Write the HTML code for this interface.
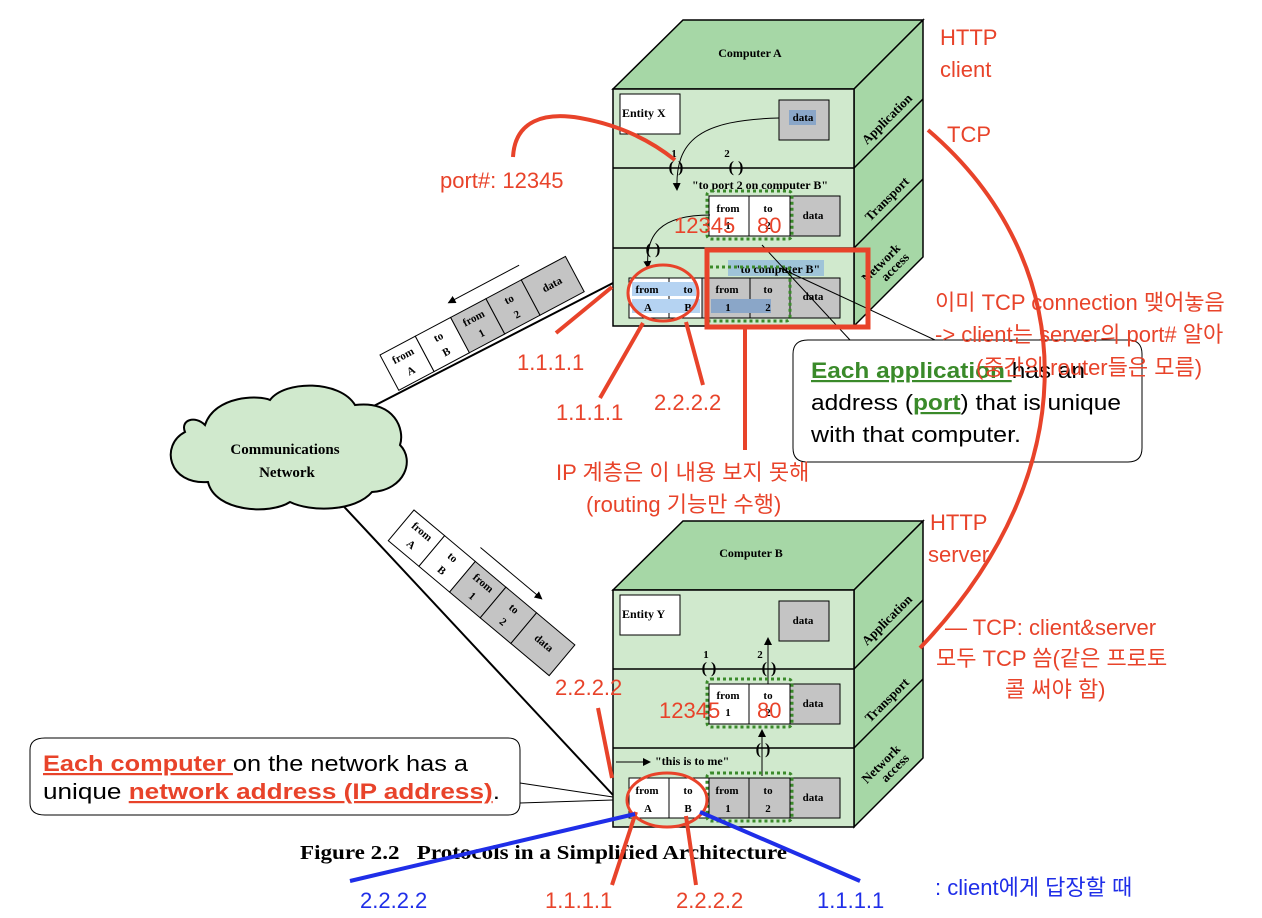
<!DOCTYPE html>
<html><head><meta charset="utf-8"><style>
html,body{margin:0;padding:0;background:#fff;}
svg{display:block;}
.s{font-family:"Liberation Serif",serif;font-weight:bold;}
.r{font-family:"Liberation Sans","Noto Sans CJK KR",sans-serif;fill:#e8432a;font-size:22px;}
.b{font-family:"Liberation Sans","Noto Sans CJK KR",sans-serif;fill:#1f2ee8;font-size:22px;}
.c{font-family:"Liberation Sans",sans-serif;font-size:22px;}
</style></head><body>
<svg width="1262" height="918" viewBox="0 0 1262 918" xmlns="http://www.w3.org/2000/svg">
<defs>
<marker id="ah" markerWidth="8" markerHeight="8" refX="7" refY="4" orient="auto"><path d="M0,0 L8,4 L0,8 z" fill="#000"/></marker>
</defs>

<!-- ===== Cube A ===== -->
<g stroke="#000" stroke-width="1.5">
<polygon points="613,89 683,20 923,20 854,89" fill="#a6d7a6"/>
<polygon points="854,89 923,20 923,257 854,326" fill="#a6d7a6"/>
<rect x="613" y="89" width="241" height="237" fill="#d0e9cd"/>
<line x1="613" y1="168" x2="854" y2="168"/>
<line x1="613" y1="248" x2="854" y2="248"/>
<line x1="854" y1="168" x2="923" y2="99"/>
<line x1="854" y1="248" x2="923" y2="179"/>
</g>
<text class="s" x="750" y="57" font-size="12" text-anchor="middle">Computer A</text>
<text class="s" font-size="13" transform="translate(890,122) rotate(-45)" text-anchor="middle">Application</text>
<text class="s" font-size="13" transform="translate(890,202) rotate(-45)" text-anchor="middle">Transport</text>
<text class="s" font-size="13" transform="translate(884,266) rotate(-45)" text-anchor="middle">Network</text>
<text class="s" font-size="13" transform="translate(898,270) rotate(-45)" text-anchor="middle">access</text>
<rect x="620" y="94" width="60" height="40" fill="#fff" stroke="#000"/>
<text class="s" x="622" y="117" font-size="12">Entity X</text>
<rect x="779" y="100" width="50" height="40" fill="#c4c4c4" stroke="#000"/>
<rect x="789" y="110" width="27" height="15" fill="#8aa6c8"/>
<text class="s" x="803" y="121" font-size="11" text-anchor="middle">data</text>
<text class="s" x="674" y="157" font-size="11" text-anchor="middle">1</text>
<text class="s" x="727" y="157" font-size="11" text-anchor="middle">2</text>
<text class="s" x="676" y="172" font-size="16" text-anchor="middle">( )</text>
<text class="s" x="736" y="172" font-size="16" text-anchor="middle">( )</text>
<path d="M779,118 C700,120 675,140 677,190" fill="none" stroke="#000" marker-end="url(#ah)"/>
<text class="s" x="760" y="189" font-size="12" text-anchor="middle">"to port 2 on computer B"</text>
<rect x="709" y="196" width="40" height="40" fill="#fff" stroke="#000"/>
<rect x="749" y="196" width="41" height="40" fill="#fff" stroke="#000"/>
<rect x="790" y="196" width="50" height="40" fill="#c4c4c4" stroke="#000"/>
<text class="s" x="728" y="212" font-size="11" text-anchor="middle">from</text>
<text class="s" x="728" y="229" font-size="11" text-anchor="middle">1</text>
<text class="s" x="768" y="212" font-size="11" text-anchor="middle">to</text>
<text class="s" x="768" y="229" font-size="11" text-anchor="middle">2</text>
<text class="s" x="813" y="219" font-size="11" text-anchor="middle">data</text>
<rect x="707" y="191" width="85" height="48" rx="4" fill="none" stroke="#3a8a2a" stroke-width="3" stroke-dasharray="3,3"/>
<path d="M710,215 C660,215 645,235 648,268" fill="none" stroke="#000" marker-end="url(#ah)"/>
<text class="s" x="653" y="254" font-size="16" text-anchor="middle">( )</text>
<rect x="728" y="260" width="96" height="16" fill="#9fc4d8"/>
<text class="s" x="777" y="273" font-size="12" text-anchor="middle">"to computer B"</text>
<rect x="629" y="278" width="40" height="40" fill="#fff" stroke="#000"/>
<rect x="669" y="278" width="33" height="40" fill="#fff" stroke="#000"/>
<rect x="702" y="278" width="48" height="40" fill="#c4c4c4" stroke="#000"/>
<rect x="750" y="278" width="40" height="40" fill="#c4c4c4" stroke="#000"/>
<rect x="790" y="278" width="50" height="40" fill="#c4c4c4" stroke="#000"/>
<rect x="632" y="282" width="64" height="14" fill="#b5d3f2"/>
<rect x="632" y="299" width="68" height="14" fill="#b5d3f2"/>
<rect x="711" y="299" width="60" height="14" fill="#8aa6c8"/>
<text class="s" x="647" y="293" font-size="11" text-anchor="middle">from</text>
<text class="s" x="648" y="311" font-size="11" text-anchor="middle">A</text>
<text class="s" x="688" y="293" font-size="11" text-anchor="middle">to</text>
<text class="s" x="688" y="311" font-size="11" text-anchor="middle">B</text>
<text class="s" x="727" y="293" font-size="11" text-anchor="middle">from</text>
<text class="s" x="728" y="311" font-size="11" text-anchor="middle">1</text>
<text class="s" x="768" y="293" font-size="11" text-anchor="middle">to</text>
<text class="s" x="768" y="311" font-size="11" text-anchor="middle">2</text>
<text class="s" x="813" y="300" font-size="11" text-anchor="middle">data</text>
<rect x="706" y="267" width="84" height="54" rx="4" fill="none" stroke="#3a8a2a" stroke-width="3" stroke-dasharray="3,3"/>

<!-- ===== Cube B ===== -->
<g stroke="#000" stroke-width="1.5">
<polygon points="613,590 683,521 923,521 854,590" fill="#a6d7a6"/>
<polygon points="854,590 923,521 923,758 854,827" fill="#a6d7a6"/>
<rect x="613" y="590" width="241" height="237" fill="#d0e9cd"/>
<line x1="613" y1="669" x2="854" y2="669"/>
<line x1="613" y1="748" x2="854" y2="748"/>
<line x1="854" y1="669" x2="923" y2="600"/>
<line x1="854" y1="748" x2="923" y2="679"/>
</g>
<text class="s" x="751" y="557" font-size="12" text-anchor="middle">Computer B</text>
<text class="s" font-size="13" transform="translate(890,623) rotate(-45)" text-anchor="middle">Application</text>
<text class="s" font-size="13" transform="translate(890,703) rotate(-45)" text-anchor="middle">Transport</text>
<text class="s" font-size="13" transform="translate(884,767) rotate(-45)" text-anchor="middle">Network</text>
<text class="s" font-size="13" transform="translate(898,771) rotate(-45)" text-anchor="middle">access</text>
<rect x="620" y="595" width="60" height="40" fill="#fff" stroke="#000"/>
<text class="s" x="622" y="618" font-size="12">Entity Y</text>
<rect x="779" y="601" width="50" height="40" fill="#c4c4c4" stroke="#000"/>
<text class="s" x="803" y="624" font-size="11" text-anchor="middle">data</text>
<text class="s" x="706" y="658" font-size="11" text-anchor="middle">1</text>
<text class="s" x="760" y="658" font-size="11" text-anchor="middle">2</text>
<text class="s" x="709" y="673" font-size="16" text-anchor="middle">( )</text>
<text class="s" x="769" y="673" font-size="16" text-anchor="middle">( )</text>
<line x1="768" y1="685" x2="768" y2="638" stroke="#000" marker-end="url(#ah)"/>
<rect x="709" y="684" width="40" height="40" fill="#fff" stroke="#000"/>
<rect x="749" y="684" width="41" height="40" fill="#fff" stroke="#000"/>
<rect x="790" y="684" width="50" height="40" fill="#c4c4c4" stroke="#000"/>
<text class="s" x="728" y="699" font-size="11" text-anchor="middle">from</text>
<text class="s" x="728" y="716" font-size="11" text-anchor="middle">1</text>
<text class="s" x="768" y="699" font-size="11" text-anchor="middle">to</text>
<text class="s" x="768" y="716" font-size="11" text-anchor="middle">2</text>
<text class="s" x="813" y="707" font-size="11" text-anchor="middle">data</text>
<rect x="707" y="679" width="85" height="48" rx="4" fill="none" stroke="#3a8a2a" stroke-width="3" stroke-dasharray="3,3"/>
<text class="s" x="763" y="754" font-size="16" text-anchor="middle">( )</text>
<line x1="762" y1="776" x2="762" y2="730" stroke="#000" marker-end="url(#ah)"/>
<line x1="616" y1="762" x2="650" y2="762" stroke="#000" marker-end="url(#ah)"/>
<text class="s" x="655" y="765" font-size="12">"this is to me"</text>
<rect x="629" y="778" width="40" height="40" fill="#fff" stroke="#000"/>
<rect x="669" y="778" width="40" height="40" fill="#fff" stroke="#000"/>
<rect x="709" y="778" width="40" height="40" fill="#c4c4c4" stroke="#000"/>
<rect x="749" y="778" width="41" height="40" fill="#c4c4c4" stroke="#000"/>
<rect x="790" y="778" width="50" height="40" fill="#c4c4c4" stroke="#000"/>
<text class="s" x="647" y="794" font-size="11" text-anchor="middle">from</text>
<text class="s" x="648" y="812" font-size="11" text-anchor="middle">A</text>
<text class="s" x="688" y="794" font-size="11" text-anchor="middle">to</text>
<text class="s" x="688" y="812" font-size="11" text-anchor="middle">B</text>
<text class="s" x="727" y="794" font-size="11" text-anchor="middle">from</text>
<text class="s" x="728" y="812" font-size="11" text-anchor="middle">1</text>
<text class="s" x="768" y="794" font-size="11" text-anchor="middle">to</text>
<text class="s" x="768" y="812" font-size="11" text-anchor="middle">2</text>
<text class="s" x="813" y="801" font-size="11" text-anchor="middle">data</text>
<rect x="707" y="773" width="85" height="48" rx="4" fill="none" stroke="#3a8a2a" stroke-width="3" stroke-dasharray="3,3"/>

<!-- ===== Cloud and links ===== -->
<line x1="362" y1="412" x2="613" y2="283" stroke="#000" stroke-width="2"/>
<line x1="335" y1="497" x2="613" y2="795" stroke="#000" stroke-width="2"/>
<path d="M205,425 C215,395 260,395 270,400 C285,380 340,380 355,405 C395,400 405,430 400,445 C415,460 405,490 372,492 C355,512 310,512 290,502 C270,515 215,512 208,482 C168,485 160,445 185,432 C180,420 195,415 205,425 Z" fill="#d0e9cd" stroke="#000" stroke-width="2"/>
<text class="s" x="285" y="454" font-size="15" text-anchor="middle">Communications</text>
<text class="s" x="287" y="477" font-size="15" text-anchor="middle">Network</text>

<!-- Upper packet (to left) -->
<g transform="translate(380,355) rotate(-28)">
<rect x="0" y="0" width="40" height="40" fill="#fff" stroke="#000"/>
<rect x="40" y="0" width="40" height="40" fill="#fff" stroke="#000"/>
<rect x="80" y="0" width="40" height="40" fill="#c4c4c4" stroke="#000"/>
<rect x="120" y="0" width="40" height="40" fill="#c4c4c4" stroke="#000"/>
<rect x="160" y="0" width="50" height="40" fill="#c4c4c4" stroke="#000"/>
<g class="s" font-size="11" text-anchor="middle">
<text x="20" y="15">from</text><text x="20" y="32">A</text>
<text x="60" y="15">to</text><text x="60" y="32">B</text>
<text x="100" y="15">from</text><text x="100" y="32">1</text>
<text x="140" y="15">to</text><text x="140" y="32">2</text>
<text x="185" y="22">data</text></g>
<line x1="165" y1="-14" x2="85" y2="-14" stroke="#000" marker-end="url(#ah)"/>
</g>
<!-- Lower packet (to right) -->
<g transform="translate(414,510) rotate(40)">
<rect x="0" y="0" width="40" height="40" fill="#fff" stroke="#000"/>
<rect x="40" y="0" width="40" height="40" fill="#fff" stroke="#000"/>
<rect x="80" y="0" width="40" height="40" fill="#c4c4c4" stroke="#000"/>
<rect x="120" y="0" width="40" height="40" fill="#c4c4c4" stroke="#000"/>
<rect x="160" y="0" width="50" height="40" fill="#c4c4c4" stroke="#000"/>
<g class="s" font-size="11" text-anchor="middle">
<text x="20" y="15">from</text><text x="20" y="32">A</text>
<text x="60" y="15">to</text><text x="60" y="32">B</text>
<text x="100" y="15">from</text><text x="100" y="32">1</text>
<text x="140" y="15">to</text><text x="140" y="32">2</text>
<text x="185" y="22">data</text></g>
<line x1="75" y1="-14" x2="155" y2="-14" stroke="#000" marker-end="url(#ah)"/>
</g>

<!-- ===== Callouts ===== -->
<line x1="762" y1="245" x2="850" y2="340" stroke="#000"/>
<line x1="780" y1="268" x2="935" y2="340" stroke="#000"/>
<path d="M808,340 L1128,340 Q1142,340 1142,354 L1142,448 Q1142,462 1128,462 L807,462 Q793,462 793,448 L793,354 Q793,340 808,340 Z" fill="#fff" stroke="#000"/>
<text class="c" x="811" y="378" textLength="274" lengthAdjust="spacingAndGlyphs"><tspan fill="#3a8a2a" font-weight="bold" text-decoration="underline">Each application </tspan><tspan fill="#000">has an</tspan></text>
<text class="c" x="811" y="410" fill="#000" textLength="310" lengthAdjust="spacingAndGlyphs">address (<tspan fill="#3a8a2a" font-weight="bold" text-decoration="underline">port</tspan>) that is unique</text>
<text class="c" x="811" y="442" fill="#000" textLength="210" lengthAdjust="spacingAndGlyphs">with that computer.</text>

<line x1="520" y1="783" x2="613" y2="797" stroke="#000"/>
<line x1="520" y1="803" x2="613" y2="800" stroke="#000"/>
<path d="M45,738 L508,738 Q520,738 520,750 L520,803 Q520,815 508,815 L45,815 Q30,815 30,803 L30,750 Q30,738 45,738 Z" fill="#fff" stroke="#000"/>
<text class="c" x="43" y="771" textLength="425" lengthAdjust="spacingAndGlyphs"><tspan fill="#e8432a" font-weight="bold" text-decoration="underline">Each computer </tspan><tspan fill="#000">on the network has a</tspan></text>
<text class="c" x="43" y="799" fill="#000" textLength="457" lengthAdjust="spacingAndGlyphs">unique <tspan fill="#e8432a" font-weight="bold" text-decoration="underline">network address (IP address)</tspan>.</text>

<text class="s" x="300" y="859" font-size="20" xml:space="preserve" style="white-space:pre" textLength="487" lengthAdjust="spacingAndGlyphs">Figure 2.2   Protocols in a Simplified Architecture</text>

<!-- ===== Red annotations ===== -->
<g stroke="#e8432a" fill="none" stroke-width="4">
<path d="M513,157 C515,120 545,112 580,118 C620,125 650,140 675,160"/>
<ellipse cx="663" cy="293" rx="35" ry="28" stroke-width="3"/>
<rect x="707" y="250" width="161" height="77" stroke-width="5"/>
<line x1="612" y1="287" x2="556" y2="333"/>
<line x1="643" y1="323" x2="600" y2="398"/>
<line x1="686" y1="322" x2="703" y2="385"/>
<line x1="745" y1="327" x2="745" y2="450"/>
<path d="M928,130 C1080,260 1090,470 920,648"/>
<ellipse cx="667" cy="800" rx="40" ry="27" stroke-width="3"/>
<line x1="598" y1="708" x2="612" y2="778"/>
<line x1="636" y1="812" x2="612" y2="885"/>
<line x1="686" y1="816" x2="696" y2="885"/>
</g>
<g stroke="#1f2ee8" stroke-width="4">
<line x1="635" y1="814" x2="350" y2="881"/>
<line x1="700" y1="812" x2="860" y2="881"/>
</g>
<text class="r" x="440" y="188">port#: 12345</text>
<text class="r" x="674" y="233" font-size="23">12345</text>
<text class="r" x="757" y="233" font-size="23">80</text>
<text class="r" x="659" y="718" font-size="23">12345</text>
<text class="r" x="757" y="718" font-size="23">80</text>
<text class="r" x="517" y="370">1.1.1.1</text>
<text class="r" x="556" y="420">1.1.1.1</text>
<text class="r" x="654" y="410">2.2.2.2</text>
<text class="r" x="556" y="480">IP 계층은 이 내용 보지 못해</text>
<text class="r" x="586" y="512">(routing 기능만 수행)</text>
<text class="r" x="555" y="695">2.2.2.2</text>
<text class="r" x="940" y="45">HTTP</text>
<text class="r" x="940" y="77">client</text>
<text class="r" x="947" y="142">TCP</text>
<text class="r" x="935" y="310">이미 TCP connection 맺어놓음</text>
<text class="r" x="935" y="342">-&gt; client는 server의 port# 알아</text>
<text class="r" x="976" y="375">(중간의 router들은 모름)</text>
<text class="r" x="930" y="530">HTTP</text>
<text class="r" x="928" y="562">server</text>
<text class="r" x="945" y="635">— TCP:  client&amp;server</text>
<text class="r" x="936" y="666">모두 TCP 씀(같은 프로토</text>
<text class="r" x="1005" y="697">콜 써야 함)</text>
<text class="b" x="360" y="908">2.2.2.2</text>
<text class="r" x="545" y="908">1.1.1.1</text>
<text class="r" x="676" y="908">2.2.2.2</text>
<text class="b" x="817" y="908">1.1.1.1</text>
<text class="b" x="935" y="895">: client에게 답장할 때</text>
</svg>
</body></html>
